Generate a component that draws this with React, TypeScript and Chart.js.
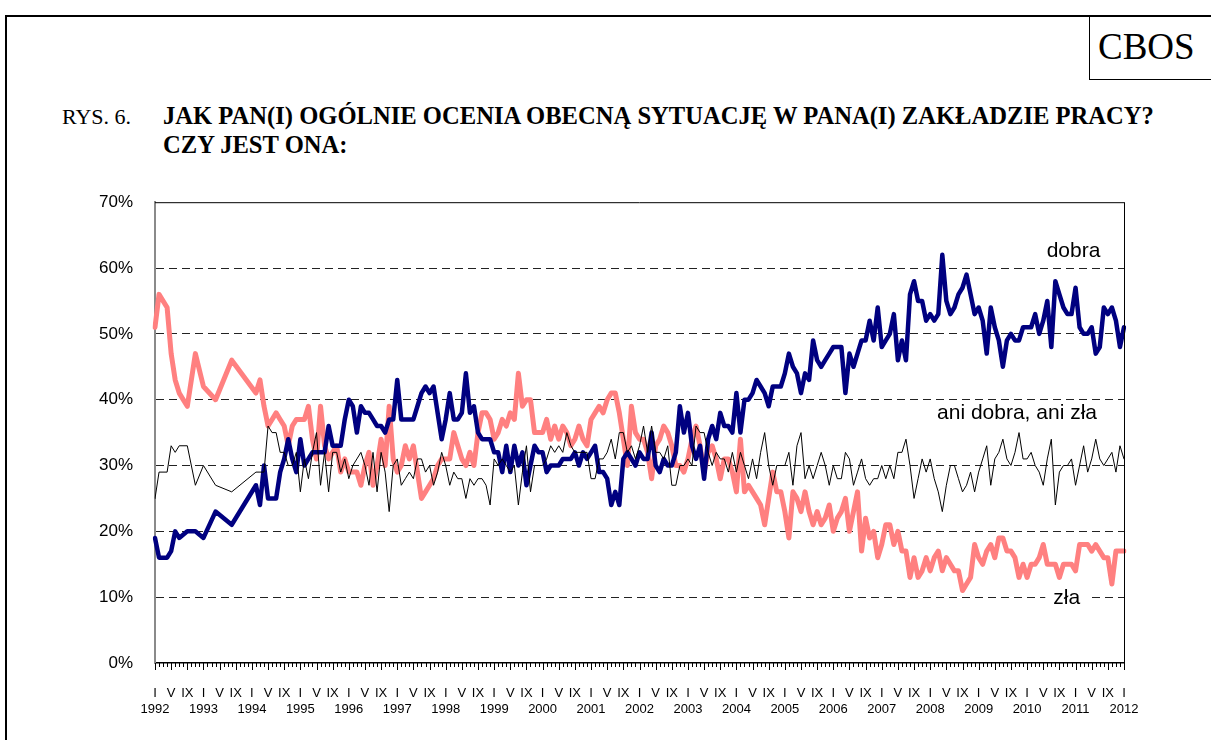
import React, { useEffect, useRef } from "react";
import { Chart, registerables } from "chart.js";

Chart.register(...registerables);

// ---- axis labels ----
const years = [1992, 1993, 1994, 1995, 1996, 1997, 1998, 1999, 2000, 2001, 2002, 2003, 2004, 2005, 2006, 2007, 2008, 2009, 2010, 2011, 2012];
const monthMarks = ["I", "", "", "", "V", "", "", "", "IX", "", "", ""];
const yTicks = [0, 10, 20, 30, 40, 50, 60, 70];

// ---- series (monthly, Jan 1992 .. Jan 2012; null = no survey) ----
const dobra = [
  19, 16, null, 16, 17, 20, 19, null, 20, null, 20, null, // 1992
  19, null, null, 23, null, null, null, 21, null, null, null, null, // 1993
  null, 27, 24, 30, 25, 25, 25, 29, 31, 34, 31, 29, // 1994
  34, 30, 31, 32, 32, 32, 32, 36, 33, 33, 33, 37, // 1995
  40, 39, 35, 39, 38, 38, 37, 36, 36, 35, 37, 37, // 1996
  43, 37, 37, 37, 37, 39, 41, 42, 41, 42, 38, 34, // 1997
  37, 41, 37, 37, 38, 44, 38, 39, 35, 34, 34, 34, // 1998
  32, 32, 29, 33, 29, 33, 30, 32, 27, 30, 33, 32, // 1999
  32, 29, 30, 30, 30, 31, 31, 31, 32, 30, 32, 31, // 2000
  32, 33, 29, 29, 28, 24, 26, 24, 31, 32, 31, 30, // 2001
  32, 31, 31, 35, 30, 29, 31, 30, 30, 32, 39, 35, // 2002
  38, 33, 31, 33, 28, 34, 36, 34, 38, 36, 36, 35, // 2003
  41, 35, 40, 40, 41, 43, 42, 41, 39, 42, 42, 42, // 2004
  44, 47, 45, 44, 41, 44, 43, 49, 46, 45, 46, 47, // 2005
  48, 48, 48, 41, 47, 45, 47, 49, 49, 52, 49, 54, // 2006
  48, 49, 50, 53, 46, 49, 46, 56, 58, 55, 55, 52, // 2007
  53, 52, 53, 62, 55, 53, 54, 56, 57, 59, 56, 53, // 2008
  54, 52, 47, 54, 51, 49, 45, 49, 50, 49, 49, 51, // 2009
  51, 51, 53, 50, 52, 55, 48, 58, 56, 54, 53, 53, // 2010
  57, 51, 50, 50, 51, 47, 48, 54, 53, 54, 52, 48, // 2011
  51, // 2012
];

const anidobra = [
  25, 29, null, 29, 33, 32, 33, null, 33, null, 27, null,
  30, null, null, 27, null, null, null, 26, null, null, null, null,
  null, 29, 29, 29, 36, 35, 35, 32, 32, 30, 30, 32,
  26, 31, 28, 32, 35, 27, 32, 26, 32, 32, 29, 31,
  28, 30, 31, 32, 30, 27, 32, 26, 32, 29, 23, 30,
  31, 27, 28, 29, 28, 31, 31, 29, 30, 27, 29, 32,
  30, 27, 29, 28, 28, 25, 28, 27, 28, 28, 27, 24,
  31, 30, 31, 30, 29, 30, 24, 29, 33, 26, 30, 30,
  30, 31, 33, 32, 33, 32, 35, 33, 32, 32, 32, 32,
  28, 28, 31, 31, 32, 34, 31, 35, 35, 32, 33, 31,
  33, 36, 32, 36, 32, 32, 31, 33, 27, 27, 30, 30,
  31, 30, 36, 35, 35, 32, 30, 32, 31, 31, 29, 32,
  29, 32, 30, 28, 31, 28, 32, 35, 30, 27, 30, 30,
  30, 32, 27, 33, 35, 28, 30, 28, 30, 32, 30, 27,
  30, 28, 28, 32, 31, 27, 29, 31, 28, 27, 28, 28,
  30, 28, 30, 28, 32, 32, 34, 30, 25, 28, 31, 29,
  31, 28, 26, 23, 27, 30, 30, 28, 26, 27, 29, 26,
  29, 31, 33, 27, 31, 32, 34, 31, 30, 32, 35, 31,
  31, 32, 30, 29, 27, 31, 34, 24, 29, 30, 30, 31,
  27, 30, 33, 29, 31, 34, 31, 30, 31, 32, 29, 33,
  31,
];

const zla = [
  51, 56, null, 54, 47, 43, 41, null, 39, null, 47, null,
  42, null, null, 40, null, null, null, 46, null, null, null, null,
  null, 41, 43, 39, 36, 37, 38, 37, 36, 33, 36, 37,
  37, 37, 39, 34, 31, 39, 33, 31, 32, 33, 29, 31,
  29, 29, 29, 27, 30, 32, 27, 30, 34, 30, 39, 31,
  29, 30, 33, 31, 33, 29, 25, 26, 27, 28, 30, 31,
  31, 31, 35, 33, 31, 30, 32, 30, 35, 38, 38, 37,
  34, 35, 37, 36, 38, 37, 44, 39, 40, 40, 35, 35,
  35, 37, 34, 36, 34, 36, 35, 33, 34, 36, 34, 33,
  37, 38, 39, 38, 40, 41, 41, 38, 34, 30, 39, 35,
  34, 34, 32, 28, 33, 34, 36, 35, 33, 30, 30, 29,
  31, 34, 36, 33, 29, 32, 33, 31, 28, 31, 31, 29,
  26, 34, 26, 27, 26, 25, 24, 21, 25, 29, 26, 26,
  23, 19, 26, 25, 23, 26, 23, 21, 23, 21, 22, 24,
  20, 22, 23, 25, 20, 23, 26, 17, 22, 19, 20, 16,
  18, 21, 21, 18, 20, 17, 17, 13, 16, 13, 14, 16,
  14, 16, 17, 14, 16, 15, 14, 14, 11, 12, 13, 18,
  16, 15, 17, 18, 16, 19, 19, 17, 17, 16, 13, 15,
  13, 15, 15, 16, 18, 15, 15, 15, 13, 15, 15, 15,
  14, 18, 18, 18, 17, 18, 17, 16, 16, 12, 17, 17,
  17,
];

// series text labels placed in data coordinates (month index, percent)
const seriesNotes = [
  { text: "dobra", month: 227.5, value: 62.6, bg: false },
  { text: "ani dobra, ani zła", month: 213.5, value: 38.0, bg: false },
  { text: "zła", month: 225.8, value: 9.9, bg: true },
];

const SANS = "'Liberation Sans', Arial, sans-serif";
const SERIF = "'Liberation Serif', 'Times New Roman', serif";

function buildLabels(): (string | string[])[] {
  const out: (string | string[])[] = [];
  years.forEach((y, yi) => {
    monthMarks.forEach((m, mi) => {
      if (yi === years.length - 1 && mi > 0) return;
      out.push(mi === 0 ? [m, String(y)] : m);
    });
  });
  return out;
}

const framePlugin = {
  id: "frame",
  afterDraw(chart: any) {
    const { ctx, chartArea, scales } = chart;
    const xs = scales.x;
    ctx.save();
    ctx.strokeStyle = "#000";
    ctx.lineWidth = 1;
    ctx.beginPath();
    ctx.moveTo(chartArea.left, chartArea.top + 0.5);
    ctx.lineTo(chartArea.right, chartArea.top + 0.5);
    ctx.moveTo(chartArea.right + 0.5, chartArea.top);
    ctx.lineTo(chartArea.right + 0.5, chartArea.bottom);
    ctx.stroke();
    ctx.beginPath();
    const n = chart.data.labels.length;
    for (let i = 0; i < n; i++) {
      const x = Math.round(xs.getPixelForValue(i)) + 0.5;
      const len = i % 4 === 0 ? 7 : 4;
      ctx.moveTo(x, chartArea.bottom);
      ctx.lineTo(x, chartArea.bottom + len);
    }
    ctx.stroke();
    ctx.restore();
  },
};

const notesPlugin = {
  id: "notes",
  afterDatasetsDraw(chart: any) {
    const { ctx, scales } = chart;
    ctx.save();
    ctx.font = `21px ${SANS}`;
    ctx.textAlign = "center";
    ctx.textBaseline = "middle";
    seriesNotes.forEach((n) => {
      const x = scales.x.getPixelForValue(n.month);
      const y = scales.y.getPixelForValue(n.value);
      if (n.bg) {
        const w = ctx.measureText(n.text).width;
        ctx.fillStyle = "#fff";
        ctx.fillRect(x - w / 2 - 8, y - 11, w + 16, 22);
      }
      ctx.fillStyle = "#000";
      ctx.fillText(n.text, x, y);
    });
    ctx.restore();
  },
};

export default function App() {
  const ref = useRef<HTMLCanvasElement | null>(null);

  useEffect(() => {
    if (!ref.current) return;
    const labels = buildLabels();
    const chart = new Chart(ref.current, {
      type: "line",
      data: {
        labels,
        datasets: [
          { label: "ani dobra, ani zła", data: anidobra, borderColor: "#000000", borderWidth: 1 },
          { label: "dobra", data: dobra, borderColor: "#000080", borderWidth: 4.5 },
          { label: "zła", data: zla, borderColor: "#FF8080", borderWidth: 5 },
        ],
      },
      options: {
        responsive: false,
        animation: false,
        devicePixelRatio: 1,
        spanGaps: true,
        layout: { padding: { left: 55, top: 26, right: 87, bottom: 17 } },
        elements: {
          point: { radius: 0, hoverRadius: 0 },
          line: { tension: 0, borderJoinStyle: "round", borderCapStyle: "round", fill: false },
        },
        plugins: {
          legend: { display: false },
          tooltip: { enabled: false },
          title: { display: false },
        },
        scales: {
          x: {
            type: "category",
            offset: false,
            afterFit: (s: any) => {
              s.height = 50;
            },
            grid: {
              display: true,
              drawOnChartArea: false,
              drawTicks: true,
              tickLength: 6,
              color: "rgba(0,0,0,0)",
            },
            border: { display: true, color: "#000", width: 1.5 },
            ticks: {
              autoSkip: false,
              maxRotation: 0,
              minRotation: 0,
              padding: 16,
              color: "#000",
              font: { family: SANS, size: 13, lineHeight: 16 / 13 },
            },
          },
          y: {
            min: 0,
            max: 70,
            afterFit: (s: any) => {
              s.width = 100;
            },
            afterBuildTicks: (s: any) => {
              s.ticks = yTicks.map((v) => ({ value: v }));
            },
            grid: {
              drawTicks: false,
              color: (c: any) =>
                c.tick && (c.tick.value === 0 || c.tick.value === 70) ? "rgba(0,0,0,0)" : "#222",
              lineWidth: 1,
            },
            border: { display: true, color: "#8a8a8a", width: 2, dash: [8, 5] },
            ticks: {
              padding: 22,
              color: "#000",
              font: { family: SANS, size: 17 },
              callback: (v: any) => `${v}%`,
            },
          },
        },
      },
      plugins: [framePlugin, notesPlugin],
    });
    return () => chart.destroy();
  }, []);

  return (
    <div style={{ position: "absolute", left: 0, top: 0, width: 1211, height: 740, background: "#fff", overflow: "hidden" }}>
      <div style={{ position: "absolute", left: 5, top: 15, width: 1300, height: 800, borderTop: "2px solid #000", borderLeft: "2px solid #000" }} />
      <div
        style={{
          position: "absolute",
          left: 1089,
          top: 16,
          width: 130,
          height: 64,
          borderLeft: "1.5px solid #000",
          borderBottom: "1.5px solid #000",
          fontFamily: SERIF,
          fontSize: 37,
          lineHeight: "62px",
          paddingLeft: 8,
          boxSizing: "border-box",
          color: "#000",
          whiteSpace: "nowrap",
        }}
      >
        CBOS
      </div>
      <div style={{ position: "absolute", left: 62, top: 102, fontFamily: SERIF, fontSize: 22, lineHeight: "30px", color: "#000", whiteSpace: "nowrap" }}>
        RYS. 6.
      </div>
      <div
        style={{
          position: "absolute",
          left: 163,
          top: 101,
          fontFamily: SERIF,
          fontSize: 24.6,
          fontWeight: "bold",
          lineHeight: "29px",
          color: "#000",
          whiteSpace: "nowrap",
        }}
      >
        JAK PAN(I) OGÓLNIE OCENIA OBECNĄ SYTUACJĘ W PANA(I) ZAKŁADZIE PRACY?
        <br />
        CZY JEST ONA:
      </div>
      <canvas ref={ref} width={1211} height={560} style={{ position: "absolute", left: 0, top: 170, width: 1211, height: 560 }} />
    </div>
  );
}
